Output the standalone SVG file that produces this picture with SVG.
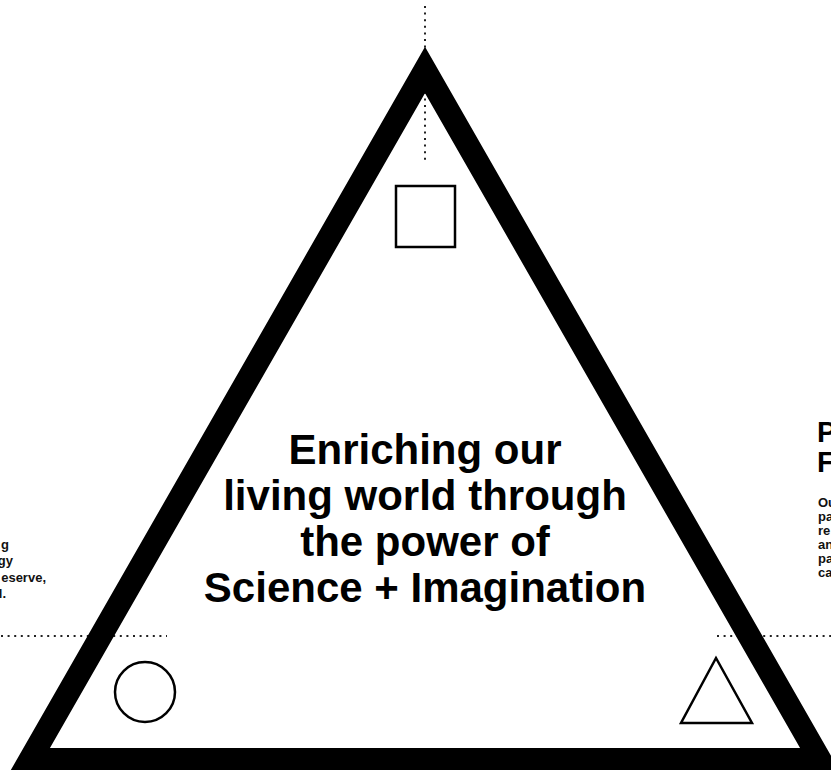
<svg xmlns="http://www.w3.org/2000/svg" width="831" height="770" viewBox="0 0 831 770">
<style>
.dot{stroke:#222;stroke-width:2;stroke-dasharray:2 4.6;fill:none}
.shape{fill:none;stroke:#000;stroke-width:2.5}
.main{font-family:"Liberation Sans",Arial,sans-serif;font-weight:bold;font-size:42px;fill:#000;text-anchor:middle}
.small{font-family:"Liberation Sans",Arial,sans-serif;font-weight:bold;font-size:13px;fill:#111}
.head{font-family:"Liberation Sans",Arial,sans-serif;font-weight:bold;font-size:29px;fill:#000}
</style>
<rect width="831" height="770" fill="#fff"/>
<g id="connectors">
<line class="dot" x1="425" y1="6" x2="425" y2="164"/>
<line class="dot" x1="1" y1="636" x2="167" y2="636"/>
<line class="dot" x1="717" y1="636" x2="831" y2="636"/>
</g>
<g id="frame">
<polygon points="425,70 30.1,759.5 819.9,759.5" fill="none" stroke="#000" stroke-width="23" stroke-linejoin="miter" stroke-miterlimit="10"/>
</g>
<g id="square"><rect class="shape" x="396" y="186" width="59" height="61"/></g>
<g id="circle"><circle class="shape" cx="145" cy="692" r="30"/></g>
<g id="small-triangle"><polygon class="shape" points="716,658 681,723 752,723" stroke-linejoin="miter"/></g>
<g id="center-text">
<text class="main" x="425" y="464">Enriching our</text>
<text class="main" x="425" y="510">living world through</text>
<text class="main" x="425" y="556">the power of</text>
<text class="main" x="425" y="602">Science + Imagination</text>
</g>
<g id="left-text">
<text class="small" x="9" y="549" text-anchor="end">g</text>
<text class="small" x="13" y="565" text-anchor="end">gy</text>
<text class="small" x="46" y="582" text-anchor="end">eserve,</text>
<text class="small" x="6" y="598" text-anchor="end">l.</text>
</g>
<g id="right-text">
<text class="head" x="817" y="442">P</text>
<text class="head" x="817" y="472">F</text>
<text class="small" x="818" y="507">Ou</text>
<text class="small" x="818" y="521">pa</text>
<text class="small" x="818" y="535">re</text>
<text class="small" x="818" y="549">an</text>
<text class="small" x="818" y="563">pa</text>
<text class="small" x="818" y="577">ca</text>
</g>
</svg>
